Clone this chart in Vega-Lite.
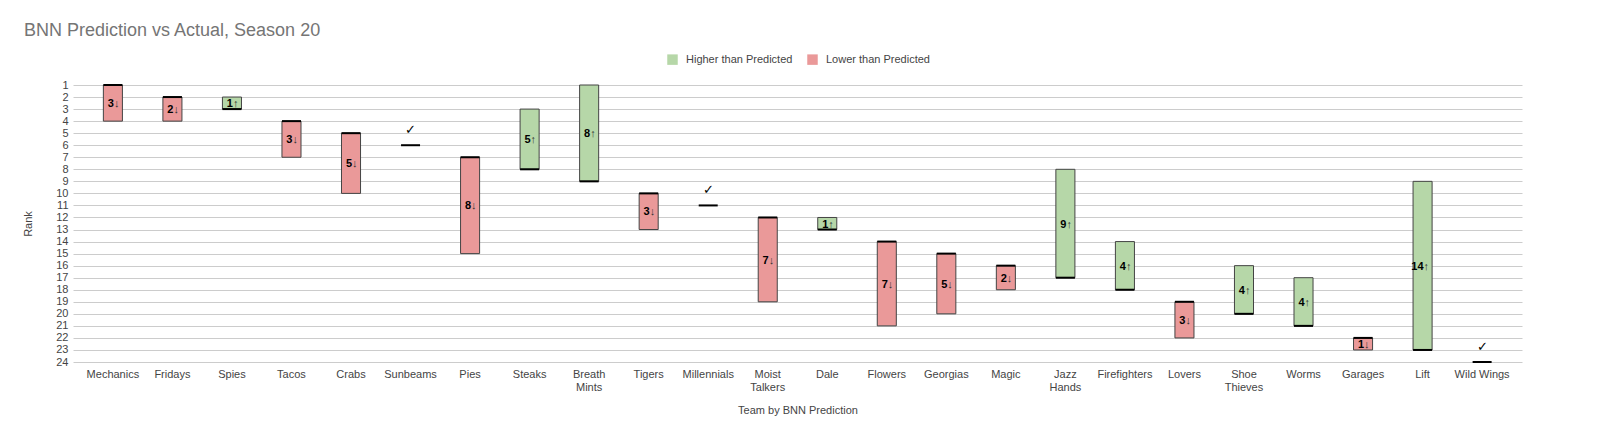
{
  "$schema": "https://vega.github.io/schema/vega-lite/v6.json",
  "width": 1449,
  "height": 277,
  "autosize": {"type": "none"},
  "padding": {"left": 73, "top": 85, "right": 78, "bottom": 85},
  "background": "white",
  "title": {
    "text": "BNN Prediction vs Actual, Season 20",
    "anchor": "start",
    "frame": "group",
    "dx": -49,
    "fontSize": 18,
    "fontWeight": "normal",
    "color": "#757575",
    "font": "Liberation Sans",
    "baseline": "alphabetic",
    "offset": 0
  },
  "data": {
    "values": [
      {"team": "Mechanics", "predicted": 1, "actual": 4, "change": 3, "arrow": "↓", "result": "Lower than Predicted"},
      {"team": "Fridays", "predicted": 2, "actual": 4, "change": 2, "arrow": "↓", "result": "Lower than Predicted"},
      {"team": "Spies", "predicted": 3, "actual": 2, "change": 1, "arrow": "↑", "result": "Higher than Predicted"},
      {"team": "Tacos", "predicted": 4, "actual": 7, "change": 3, "arrow": "↓", "result": "Lower than Predicted"},
      {"team": "Crabs", "predicted": 5, "actual": 10, "change": 5, "arrow": "↓", "result": "Lower than Predicted"},
      {"team": "Sunbeams", "predicted": 6, "actual": 6, "change": 0, "arrow": "", "result": "Correct"},
      {"team": "Pies", "predicted": 7, "actual": 15, "change": 8, "arrow": "↓", "result": "Lower than Predicted"},
      {"team": "Steaks", "predicted": 8, "actual": 3, "change": 5, "arrow": "↑", "result": "Higher than Predicted"},
      {"team": "Breath Mints", "predicted": 9, "actual": 1, "change": 8, "arrow": "↑", "result": "Higher than Predicted"},
      {"team": "Tigers", "predicted": 10, "actual": 13, "change": 3, "arrow": "↓", "result": "Lower than Predicted"},
      {"team": "Millennials", "predicted": 11, "actual": 11, "change": 0, "arrow": "", "result": "Correct"},
      {"team": "Moist Talkers", "predicted": 12, "actual": 19, "change": 7, "arrow": "↓", "result": "Lower than Predicted"},
      {"team": "Dale", "predicted": 13, "actual": 12, "change": 1, "arrow": "↑", "result": "Higher than Predicted"},
      {"team": "Flowers", "predicted": 14, "actual": 21, "change": 7, "arrow": "↓", "result": "Lower than Predicted"},
      {"team": "Georgias", "predicted": 15, "actual": 20, "change": 5, "arrow": "↓", "result": "Lower than Predicted"},
      {"team": "Magic", "predicted": 16, "actual": 18, "change": 2, "arrow": "↓", "result": "Lower than Predicted"},
      {"team": "Jazz Hands", "predicted": 17, "actual": 8, "change": 9, "arrow": "↑", "result": "Higher than Predicted"},
      {"team": "Firefighters", "predicted": 18, "actual": 14, "change": 4, "arrow": "↑", "result": "Higher than Predicted"},
      {"team": "Lovers", "predicted": 19, "actual": 22, "change": 3, "arrow": "↓", "result": "Lower than Predicted"},
      {"team": "Shoe Thieves", "predicted": 20, "actual": 16, "change": 4, "arrow": "↑", "result": "Higher than Predicted"},
      {"team": "Worms", "predicted": 21, "actual": 17, "change": 4, "arrow": "↑", "result": "Higher than Predicted"},
      {"team": "Garages", "predicted": 22, "actual": 23, "change": 1, "arrow": "↓", "result": "Lower than Predicted"},
      {"team": "Lift", "predicted": 23, "actual": 9, "change": 14, "arrow": "↑", "result": "Higher than Predicted"},
      {"team": "Wild Wings", "predicted": 24, "actual": 24, "change": 0, "arrow": "", "result": "Correct"}
    ]
  },
  "encoding": {
    "x": {
      "field": "team",
      "type": "nominal",
      "scale": {
        "domain": ["Mechanics", "Fridays", "Spies", "Tacos", "Crabs", "Sunbeams", "Pies", "Steaks", "Breath Mints", "Tigers", "Millennials", "Moist Talkers", "Dale", "Flowers", "Georgias", "Magic", "Jazz Hands", "Firefighters", "Lovers", "Shoe Thieves", "Worms", "Garages", "Lift", "Wild Wings"],
        "paddingInner": 0.68,
        "paddingOuter": 0.51
      },
      "axis": {
        "title": "Team by BNN Prediction",
        "labelAngle": 0,
        "ticks": false,
        "domain": false,
        "grid": false,
        "labelPadding": 6,
        "labelLineHeight": 13,
        "labelExpr": "datum.value == 'Wild Wings' ? datum.value : split(datum.value, ' ')",
        "titlePadding": 12
      }
    }
  },
  "layer": [
    {
      "transform": [{"filter": "datum.result != 'Correct'"}],
      "mark": {"type": "bar", "stroke": "#444444", "strokeWidth": 1},
      "encoding": {
        "y": {
          "field": "predicted",
          "type": "quantitative",
          "scale": {"domain": [1, 24], "reverse": true, "nice": false, "zero": false},
          "axis": {"title": "Rank", "values": [1,2,3,4,5,6,7,8,9,10,11,12,13,14,15,16,17,18,19,20,21,22,23,24], "tickCount": 24, "labelOverlap": false, "grid": true, "ticks": false, "domain": false, "labelPadding": 5, "titlePadding": 22}
        },
        "y2": {"field": "actual"},
        "color": {
          "field": "result",
          "type": "nominal",
          "scale": {"domain": ["Higher than Predicted", "Lower than Predicted"], "range": ["#b6d7a8", "#ea9999"]},
          "legend": {
            "title": null,
            "orient": "none",
            "direction": "horizontal",
            "legendX": 594,
            "legendY": -31,
            "symbolType": "square",
            "symbolSize": 110,
            "symbolStrokeWidth": 0,
            "labelFontSize": 11,
            "labelColor": "#444444",
            "labelOffset": 8,
            "columnPadding": 14
          }
        }
      }
    },
    {
      "mark": {"type": "tick", "color": "black", "thickness": 2, "size": 19, "opacity": 1},
      "encoding": {
        "y": {
          "field": "predicted",
          "type": "quantitative",
          "axis": {"title": "Rank", "values": [1,2,3,4,5,6,7,8,9,10,11,12,13,14,15,16,17,18,19,20,21,22,23,24], "tickCount": 24, "labelOverlap": false, "grid": true, "ticks": false, "domain": false, "labelPadding": 5, "titlePadding": 22}
        }
      }
    },
    {
      "transform": [
        {"filter": "datum.result != 'Correct'"},
        {"fold": ["predicted", "actual"], "as": ["k", "v"]},
        {"aggregate": [{"op": "mean", "field": "v", "as": "mid"}], "groupby": ["team", "change", "arrow"]}
      ],
      "mark": {"type": "text", "align": "right", "baseline": "middle", "dx": 1, "dy": 1, "fontSize": 11, "fontWeight": "bold", "color": "#000000"},
      "encoding": {
        "y": {
          "field": "mid",
          "type": "quantitative",
          "axis": {"title": "Rank", "values": [1,2,3,4,5,6,7,8,9,10,11,12,13,14,15,16,17,18,19,20,21,22,23,24], "tickCount": 24, "labelOverlap": false, "grid": true, "ticks": false, "domain": false, "labelPadding": 5, "titlePadding": 22}
        },
        "text": {"field": "change", "type": "nominal"}
      }
    },
    {
      "transform": [
        {"filter": "datum.result != 'Correct'"},
        {"fold": ["predicted", "actual"], "as": ["k", "v"]},
        {"aggregate": [{"op": "mean", "field": "v", "as": "mid"}], "groupby": ["team", "change", "arrow"]}
      ],
      "mark": {"type": "text", "align": "left", "baseline": "middle", "dx": 1, "dy": 1, "fontSize": 11, "color": "#333333"},
      "encoding": {
        "y": {
          "field": "mid",
          "type": "quantitative",
          "axis": {"title": "Rank", "values": [1,2,3,4,5,6,7,8,9,10,11,12,13,14,15,16,17,18,19,20,21,22,23,24], "tickCount": 24, "labelOverlap": false, "grid": true, "ticks": false, "domain": false, "labelPadding": 5, "titlePadding": 22}
        },
        "text": {"field": "arrow", "type": "nominal"}
      }
    },
    {
      "transform": [{"filter": "datum.result == 'Correct'"}],
      "mark": {"type": "text", "text": "✓", "baseline": "bottom", "dy": -8, "fontSize": 13, "color": "#000000"},
      "encoding": {
        "y": {
          "field": "actual",
          "type": "quantitative",
          "axis": {"title": "Rank", "values": [1,2,3,4,5,6,7,8,9,10,11,12,13,14,15,16,17,18,19,20,21,22,23,24], "tickCount": 24, "labelOverlap": false, "grid": true, "ticks": false, "domain": false, "labelPadding": 5, "titlePadding": 22}
        }
      }
    }
  ],
  "config": {
    "font": "Liberation Sans",
    "view": {"stroke": null},
    "axis": {
      "labelFont": "Liberation Sans",
      "labelFontSize": 11,
      "labelColor": "#444444",
      "titleFont": "Liberation Sans",
      "titleFontSize": 11,
      "titleFontWeight": "normal",
      "titleColor": "#444444",
      "gridColor": "#cccccc",
      "gridWidth": 1
    },
    "legend": {"labelFont": "Liberation Sans"}
  }
}
